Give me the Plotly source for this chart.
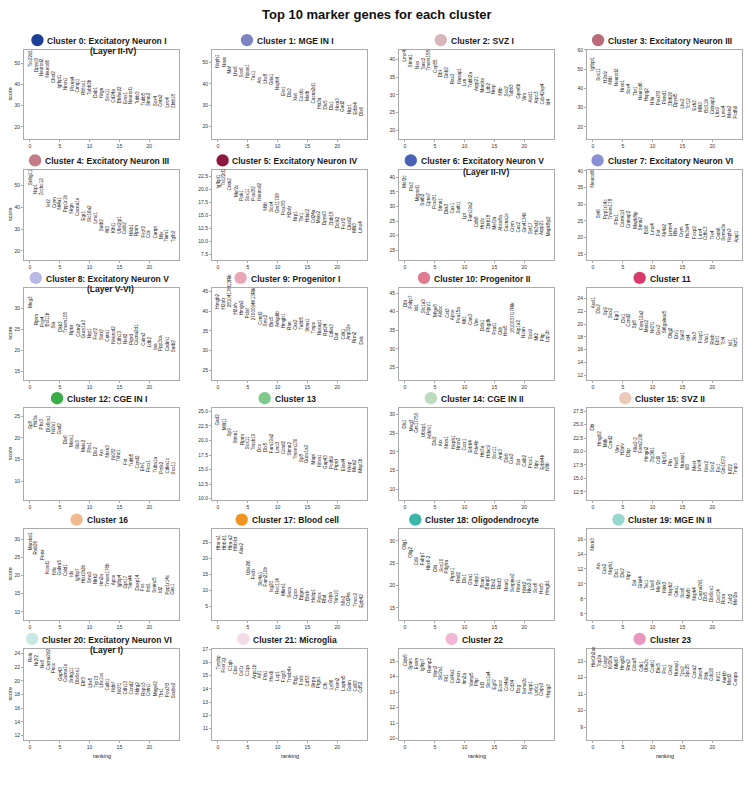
import plotly.graph_objects as go

# ---- data: top marker genes per cluster (ranking 0..24) and their scores ----
cluster_titles = [
    "Cluster 0: Excitatory Neuron I", "Cluster 1: MGE IN I", "Cluster 2: SVZ I",
    "Cluster 3: Excitatory Neuron III", "Cluster 4: Excitatory Neuron III",
    "Cluster 5: Excitatory Neuron IV", "Cluster 6: Excitatory Neuron V",
    "Cluster 7: Excitatory Neuron VI", "Cluster 8: Excitatory Neuron V",
    "Cluster 9: Progenitor I", "Cluster 10: Progenitor II", "Cluster 11",
    "Cluster 12: CGE IN I", "Cluster 13", "Cluster 14: CGE IN II", "Cluster 15: SVZ II",
    "Cluster 16", "Cluster 17: Blood cell", "Cluster 18: Oligodendrocyte",
    "Cluster 19: MGE IN II", "Cluster 20: Excitatory Neuron VI", "Cluster 21: Microglia",
    "Cluster 22", "Cluster 23",
]
cluster_subtitles = {0: "(Layer II-IV)", 6: "(Layer II-IV)", 8: "(Layer V-VI)", 20: "(Layer I)"}
cluster_colors = [
    "#1c409a", "#7d84c2", "#d9b6bb", "#b96a78", "#c47b86", "#8c1940",
    "#4b63b6", "#8b90d4", "#b8bae6", "#e9a6b4", "#e07b90", "#d83b69",
    "#3aad46", "#80c98b", "#bbdcbe", "#edcab8", "#f0b98e", "#ef9520",
    "#3cb5aa", "#96d8cf", "#cae8e3", "#f4dae5", "#f2b8d3", "#e997be",
]

genes_c0 = ["Tsc22d1", "Dpysl3", "Neurod2", "Neurod6", "Chst2", "Igfbpl1", "Nrxn1", "Plxna4", "Crmp1", "Rbfox1",
            "Tubb2b", "Dab1", "Nrgn", "Sox11", "Cd24a", "Bhlhe22", "Emx1", "Neurod1", "Tubb3", "Tubb5",
            "Stmn2", "Sox4", "Cntn2", "Lrrc4", "Zbtb18"]
scores_c0 = [47.7, 45.3, 43.3, 42.7, 40.0, 37.5, 37.0, 36.4, 35.5, 34.7, 34.3, 33.2, 33.0, 31.6, 31.1,
             30.6, 30.6, 30.3, 30.0, 29.5, 29.4, 29.0, 28.8, 28.4, 28.1]

genes_c1 = ["Nxph1", "Nnat", "Maf", "Lhx6", "Sox6", "Npas1", "Tac1", "Arx", "Lhx8", "Gria1",
            "Nxph4", "Etv1", "Dlx2", "Xist", "Cox6c", "Mafb", "Cacna2d1", "Htr3a", "Dlx5", "Dlx1",
            "Nrxn3", "Gad2", "Nrp1", "Erbb4", "Dlx6"]
scores_c1 = [47.0, 47.4, 44.3, 43.0, 42.6, 42.3, 41.0, 39.5, 39.5, 38.8, 36.4, 33.8, 33.0, 31.8, 31.5,
             31.5, 30.3, 28.0, 27.7, 27.3, 27.0, 26.5, 25.4, 25.0, 24.5]

genes_c2 = ["Lmo4", "Stmn1", "Nes", "Tanc2", "Tmem158", "Cep55", "Dbi", "Gnb2", "Rac2", "Nusap1",
            "Lxn", "Tubb2a", "Arpp21", "Marcks", "Ldb2", "Nrep", "Nfib", "Sox2", "Tubb3", "Gpm6b",
            "Vim", "Ascl1", "Arpc3", "Cdc42ep4", "Id4"]
scores_c2 = [39.2, 37.5, 37.2, 36.9, 36.7, 35.9, 34.8, 34.3, 32.8, 32.8, 32.1, 31.7, 30.8, 30.5, 30.2,
             30.0, 29.5, 29.2, 29.0, 28.7, 28.1, 27.6, 27.3, 26.9, 26.6]

genes_c3 = ["Igfbpl1", "Sox11", "H2afz", "Nfib", "Neurod2", "Nrxn1", "Sox4", "Tbr1", "Neurod6", "Hspg2",
            "Nfia", "Pou3f3", "Plxnd1", "Zbtb20", "Dpysl5", "Lhx2", "Tcf12", "Ezh2", "Mllt3", "Bcl11b",
            "Cntnap2", "Lhx9", "Lmo4", "Meis2", "Pcdh9"]
scores_c3 = [48.6, 43.6, 42.5, 41.7, 40.5, 37.6, 36.6, 35.4, 33.2, 32.5, 30.9, 30.7, 30.9, 30.3, 29.8,
             29.2, 28.6, 27.8, 27.4, 26.9, 26.1, 24.7, 24.7, 24.0, 23.5]

genes_c4 = ["Snhg11", "Nrp1", "Zcchc12", "Ier2", "Crym", "Nr4a1", "Ppp1r1b", "Nrgn", "Cacna1e", "Egr1",
            "Slc16a2", "Lmo1", "Satb2", "Ifit3", "Klhl1", "Ube2ql1", "Calb2", "Nfkb1", "Rprm", "Fezf2",
            "Cck", "Cartpt", "Nfix", "Tiam1", "Tgfb2"]
scores_c4 = [49.5, 45.5, 44.7, 39.5, 39.2, 38.5, 37.0, 36.5, 35.5, 33.2, 32.8, 31.8, 28.3, 27.7, 27.7,
             27.7, 27.3, 26.5, 26.2, 25.8, 25.3, 25.0, 24.7, 23.5, 23.5]

genes_c5 = ["Igfbpl1", "Tsc22d1", "Cntn2", "Mef2c", "Pak1", "Sox11", "Pou3f2", "Neurod2", "Nfib", "Sox4",
            "Gm11798", "Pou3f3", "H2afz", "Nrp1", "Tbr1", "Hdac2", "Cd24a", "Meis2", "Dpysl3", "Zbtb18",
            "Dclk2", "Fezf2", "Cited2", "Mllt3", "Lmo4"]
scores_c5 = [20.0, 20.5, 19.7, 18.4, 17.7, 17.6, 17.7, 17.6, 15.8, 15.5, 15.2, 14.9, 14.4, 13.8, 13.6,
             13.6, 13.4, 13.3, 13.0, 12.8, 12.4, 12.2, 12.0, 11.5, 11.5]

genes_c6 = ["Mef2c", "Pls3", "Mpped1", "Satb2", "Cpne7", "Pou3f1", "Stmn1", "Dkk3", "Cux1", "Satb1",
            "Lpl", "Fam19a2", "Cdh8", "Htr2c", "Zbtb18", "Mef2a", "Abca8a", "Cacna1e", "Crym", "Cux2",
            "Gm41349", "Syt17", "Hs3st2", "Arpp21", "Mapk8ip2"]
scores_c6 = [36.2, 35.1, 31.6, 29.9, 29.7, 29.0, 27.9, 27.1, 27.3, 27.1, 25.1, 24.4, 22.5, 22.1, 21.9,
             21.7, 21.4, 21.0, 20.8, 20.6, 20.6, 20.2, 19.9, 19.7, 19.4]

genes_c7 = ["Neurod6", "Syt6", "Ppp1r14c", "Tmem178", "Pbx1", "Camk1d", "Cntnap2", "Mapk8ip", "Stmn2", "Bcl6",
            "Lmo4", "Fst", "Nr4a2", "Lrrtm4", "Nfia", "Crym", "Hs3st4", "Foxp2", "Lrrc4", "Cdh13",
            "Tle4", "Cntn6", "Sema3e", "Nxph3", "Ajap1"]
scores_c7 = [34.7, 25.4, 25.2, 25.2, 23.7, 22.7, 22.4, 22.2, 21.7, 20.7, 20.4, 20.2, 20.0, 20.2, 20.0,
             19.7, 19.4, 19.2, 19.2, 19.0, 19.0, 18.9, 18.7, 18.4, 18.2]

genes_c8 = ["Meg3", "Rprm", "Pcp4", "Bcl11b", "Sla", "Dkk3", "Tmem105", "Nptxr", "Clstn2", "Gucy1a3",
            "Nrp1", "Fezf2", "Sstr2", "Cntn1", "Neurod2", "Cdh13", "Nell2", "Ptprd", "Cacna2d1", "Calm2",
            "Ldb2", "Ina", "Ppp3ca", "Cadm1", "Satb2"]
scores_c8 = [29.8, 25.8, 25.4, 25.4, 25.0, 24.2, 24.0, 23.4, 23.0, 22.6, 22.5, 22.2, 22.2, 21.8, 21.4,
             21.2, 21.2, 21.0, 20.9, 20.9, 20.4, 19.8, 19.6, 19.4, 19.3]

genes_c9 = ["Hmgb2", "H2afz", "2810417H13Rik", "H2afv", "Hmgn2", "Pclaf", "2700094K13Rik", "Ccnd2", "Smc2", "Birc5",
            "Arhgdib", "Hmgb1", "Ran", "Cks2", "Tubb5", "Stmn1", "Tmpo", "Nusap1", "Rpl24", "Cdkn3",
            "Dut", "Cdk1", "Anp32e", "Rrm2", "Dek"]
scores_c9 = [40.5, 40.3, 40.7, 39.0, 38.8, 38.0, 37.5, 36.2, 35.8, 35.8, 35.6, 35.4, 35.0, 35.0, 35.0,
             34.6, 34.2, 33.7, 33.6, 33.1, 32.5, 32.5, 32.5, 31.7, 31.2]

genes_c10 = ["Dbi", "Fabp7", "Idi1", "Slc1a3", "Ptprz1", "Mfge8", "Aldoc", "Cst3", "Apoe", "Pea15a",
             "Mt1", "Cnn3", "Vim", "Dclk1", "Phgdh", "Psat1", "Ckb", "Hes5", "1810037I17Rik", "Atp1a2",
             "Ncan", "Sox9", "Mt2", "Pltp", "Lrp1b"]
scores_c10 = [41.1, 40.7, 39.8, 39.3, 38.9, 38.4, 38.2, 38.0, 37.5, 36.6, 36.4, 36.2, 35.7, 34.6, 34.4,
              33.7, 33.4, 33.1, 34.0, 33.5, 32.6, 32.2, 32.0, 31.8, 31.6]

genes_c11 = ["Ascl1", "Dlx2", "Sp9", "Sox2", "Egr1", "Dlx1", "Ccnd2", "Sp8", "Fam19a2", "Meis2",
             "Nr2f1", "Gsx2", "St6galnac5", "Olig2", "Etv1", "Sall3", "Id4", "Six3", "Foxp1", "Vax1",
             "Rarb", "Ebf1", "Tcf4", "Isl1", "Ikzf1"]
scores_c11 = [22.3, 21.5, 21.3, 20.8, 20.4, 20.0, 19.4, 19.2, 18.9, 18.6, 18.4, 18.1, 18.4, 17.6, 17.6,
              17.3, 17.2, 17.2, 16.8, 16.8, 16.7, 16.6, 16.5, 16.4, 16.3]

genes_c12 = ["Sp8", "Htr3a", "Pbx3", "Dlx6os1", "Nr2e1", "Gad2", "Dlx6", "Meis1", "Six3", "Meis2",
             "Pbx1", "Dlx2", "Arx", "Nrxn3", "Nr2f2", "Tshz1", "Fst", "Tubb5", "Ccnd2", "Etv1",
             "Prox1", "Tuba1a", "Prdx2", "Cdkn1c", "Sox11"]
scores_c12 = [21.9, 22.3, 21.8, 21.2, 20.8, 20.5, 18.2, 17.7, 17.2, 16.5, 16.4, 15.4, 15.4, 15.2, 14.8,
              14.4, 13.5, 13.1, 12.7, 12.1, 11.9, 11.8, 11.5, 11.5, 11.2]

genes_c13 = ["Gad2", "Mllt11", "Sp9", "Stmn1", "Rprm", "Sox11", "Tmsb10", "Dcx", "Dlx5", "Fam19a2",
             "Lmo3", "Ccnd2", "Stmn2", "Tmem130", "Sp8", "Gucy1a3", "Mapt", "Nrxn1", "Gap43", "Pcdh9",
             "Ptprd", "Elavl4", "Nrep", "Meis2", "Map1b"]
scores_c13 = [22.4, 21.6, 20.6, 19.3, 19.1, 18.4, 18.2, 17.9, 17.8, 17.6, 17.6, 17.4, 17.2, 16.6, 16.1,
              15.9, 15.7, 15.3, 15.0, 14.9, 14.7, 14.5, 14.5, 14.4, 14.3]

genes_c14 = ["Dlx1", "Meg3", "Gm17750", "Ublcp1", "Adhfe1", "Dlx2", "Arx", "Nrxn1", "Nxph1", "Nrxn3",
             "Cxcr1", "Erbb4", "Pde4b", "Htr3a", "Hdac9", "Sox11", "Ank3", "Dlx6", "Cux2", "Sst",
             "Calb2", "Prox1", "Npy", "Erbb4b", "Nfib"]
scores_c14 = [26.0, 25.3, 25.0, 23.8, 23.3, 21.4, 21.2, 20.7, 20.5, 20.3, 20.0, 19.6, 19.1, 18.5, 18.2,
              17.8, 17.6, 17.0, 16.4, 16.1, 15.8, 15.4, 15.2, 14.9, 14.6]

genes_c15 = ["Dbi", "Hmgb2", "Mdk", "Ccnd2", "Vim", "H2afv", "Dbp", "Nkx2-2", "Fam210b", "Hmgn2",
             "Zfp36l1", "Cd9", "Rpl18", "Ptn", "Hes5", "Nusap1", "Id3", "Mest", "Lmo4", "Nes2",
             "Sox2", "Fjx1", "Gm1673", "Kif22", "Tmpo"]
scores_c15 = [23.8, 20.9, 20.7, 20.3, 19.5, 19.2, 18.9, 19.8, 19.5, 18.0, 17.7, 17.5, 17.4, 17.1, 16.8,
              16.8, 16.3, 16.2, 16.2, 16.0, 15.9, 15.9, 15.7, 15.5, 15.5]

genes_c16 = ["Marcksl1", "Rab26", "Pnisr", "Kcnd1", "Nfix", "Gabra5", "Cald1", "Ids", "Igfbp7", "Hist1h2b",
             "Smc2", "Ntrk2", "Itm2a", "Tmem176b", "Apoe", "Igfbp4", "Gpr17", "Trim44", "Dusp14", "Fos",
             "Ifrd1", "Serinc5", "Id2", "Ppp1r14c", "Gas1"]
scores_c16 = [26.8, 25.5, 24.1, 20.3, 20.0, 19.7, 19.5, 19.4, 18.2, 17.7, 17.5, 17.3, 16.8, 16.8, 17.0,
              16.4, 16.1, 15.9, 15.7, 15.5, 15.2, 15.0, 14.8, 14.5, 14.3]

genes_c17 = ["Hba-a1", "Hbb-b1", "Hba-a2", "Hbb-bt", "Alas2", "Ube2l6", "Fech", "Slc4a1", "Fam210b", "Isg20",
             "Rec114", "Mkrn1", "Snca", "Cpox", "Bpgm", "Blvrb", "Hebp1", "Ppox", "Rhd", "Gypa",
             "Trim10", "Nfe2", "Cd24a", "Tmcc2", "Epb42"]
scores_c17 = [22.3, 22.3, 22.2, 22.2, 20.9, 14.6, 13.2, 11.0, 10.8, 9.0, 8.5, 8.0, 7.4, 6.9, 6.7,
              6.3, 6.0, 5.8, 5.6, 5.6, 5.3, 5.0, 4.8, 4.6, 4.3]

genes_c18 = ["Olig1", "Olig2", "Cd9", "Fabp7", "Nkx6-2", "Dbi", "Sox10", "Pdgfra", "Ptprz1", "Rnd2",
             "Dlx1", "Gfra1", "Fnbp1", "Bcan", "Brinp2", "Dbx2", "Rnd3", "Neat1", "Serpine2", "Nrxn1",
             "Ntrk2", "Nkx2-2", "Sox6", "Hes5", "Hmgb1"]
scores_c18 = [27.9, 26.1, 24.4, 24.4, 23.3, 22.9, 22.9, 22.4, 20.7, 20.4, 20.2, 19.8, 19.6, 19.3, 19.0,
              18.9, 18.9, 18.5, 18.3, 18.3, 18.1, 18.0, 18.0, 17.8, 17.6]

genes_c19 = ["Nrxn3", "Arx", "Cux2", "Nxph1", "Dlx1", "Dlx2", "Npy", "Sst", "Grial4", "Tac1",
             "Lhx6", "Mef2c", "Ntrk3", "Nxph2", "Gria1", "Sox6", "Mafb", "Nxph4", "Cacna2d1", "Dlx5",
             "Dlx6os1", "Cxcl14", "Rora", "Zeb2", "Mef2a"]
scores_c19 = [14.4, 11.8, 11.2, 11.1, 10.7, 10.7, 10.5, 9.6, 9.3, 9.1, 9.0, 8.8, 8.7, 8.4, 8.2,
              8.0, 7.9, 7.7, 7.7, 7.6, 7.4, 7.3, 7.2, 7.1, 7.0]

genes_c20 = ["Reln", "Nr2f2", "Nefl", "Cacna2d2", "Pnoc", "Gap43", "Cacna1e", "Snhg11", "Dlx6os1", "Ebf3",
             "Lhx5", "Trp73", "Lhx1os", "Calb1", "Ndnf", "Nr2f1", "Cdh13", "Ccnd2", "Ndrg2", "Rspo3",
             "Cntn1", "Magel2", "Tbr1", "Pou3f3", "Scube2"]
scores_c20 = [22.6, 22.0, 21.7, 21.5, 21.0, 19.8, 19.7, 19.5, 19.4, 19.0, 18.8, 18.8, 18.8, 18.5, 18.3,
              18.0, 17.9, 17.9, 17.8, 17.7, 17.6, 17.6, 17.4, 17.4, 17.3]

genes_c21 = ["Tyrobp", "Fcer1g", "C1qb", "Ctss", "Csf1r", "C1qa", "Arpc1b", "Aif1", "Fth1", "Hexb",
             "Lcp1", "Fcgr3", "Tmsb4x", "Btg1", "Fcrls", "Cd53", "Sirpa", "Ptgs1", "Cfh", "Ly86",
             "Trem2", "Laptm5", "Gatm", "Cd63", "Cd52"]
scores_c21 = [15.4, 15.2, 15.3, 15.0, 14.9, 14.9, 14.7, 14.7, 14.6, 14.5, 14.5, 14.4, 14.4, 14.3, 14.2,
              14.1, 14.0, 14.0, 13.9, 13.9, 13.8, 13.8, 13.7, 13.7, 13.6]

genes_c22 = ["Cldn5", "Sparc", "Esam", "Igfbp7", "Ramp2", "Ifitm3", "Slc2a1", "Flt1", "Col4a1", "Emcn",
             "Itm2a", "Vamp5", "Pltp", "Id3", "Slco1a4", "Egfl7", "Ecscr", "Col4a2", "Cd34", "Bsg",
             "Sema3c", "Sepp1", "Ly6c1", "Cnpy3", "Hspg2"]
scores_c22 = [14.6, 14.4, 14.4, 14.3, 14.2, 13.9, 13.7, 13.6, 13.5, 13.5, 13.4, 13.3, 13.3, 13.2, 13.2,
              13.1, 13.0, 13.0, 13.0, 12.9, 12.8, 12.8, 12.7, 12.7, 12.6]

genes_c23 = ["Hist1h2ae", "Top2a", "Cenpf", "Kif20a", "Mki67", "Hmgb2", "Rrm2", "Cdca8", "Cdk1", "Ube2c",
             "Ccnb1", "Birc5", "Prc1", "Cks2", "Nusap1", "Tpx2", "Spc25", "Ccna2", "Smc4", "Pbk",
             "Cdc20", "Kif11", "Aurkb", "Mxd3", "Cenpa"]
scores_c23 = [12.6, 12.6, 12.55, 12.5, 12.5, 12.4, 12.35, 12.3, 12.3, 12.25, 12.2, 12.2, 12.15, 12.1, 12.05,
              12.0, 11.95, 11.9, 11.85, 11.8, 11.75, 11.7, 11.6, 11.5, 11.45]

all_genes = [genes_c0, genes_c1, genes_c2, genes_c3, genes_c4, genes_c5, genes_c6, genes_c7,
             genes_c8, genes_c9, genes_c10, genes_c11, genes_c12, genes_c13, genes_c14, genes_c15,
             genes_c16, genes_c17, genes_c18, genes_c19, genes_c20, genes_c21, genes_c22, genes_c23]
all_scores = [scores_c0, scores_c1, scores_c2, scores_c3, scores_c4, scores_c5, scores_c6, scores_c7,
              scores_c8, scores_c9, scores_c10, scores_c11, scores_c12, scores_c13, scores_c14, scores_c15,
              scores_c16, scores_c17, scores_c18, scores_c19, scores_c20, scores_c21, scores_c22, scores_c23]

# ---- layout settings (pixel positions in the 754x790 window) ----
PAGE_OFF = 8           # browser body margin around the plot div
W, H = 754 - PAGE_OFF, 790 - PAGE_OFF
col_px = [(24, 179), (212, 367), (399, 554), (587, 742)]
row_px = [(47, 137), (168, 258), (286, 379), (407, 500), (529, 620), (649, 741)]
y_ranges = [(14.1, 56.3), (14.1, 55.9), (17.4, 42.8), (13.5, 60.0),
            (16.0, 56.8), (6.5, 23.7), (11.7, 42.5), (13.3, 40.2),
            (12.9, 34.9), (22.5, 46.0), (21.6, 46.5), (11.25, 25.7),
            (5.5, 26.9), (9.7, 25.6), (7.0, 31.8), (10.9, 28.1),
            (7.8, 32.7), (0.75, 29.1), (12.3, 32.6), (5.2, 17.3),
            (11.3, 24.7), (10.1, 17.05), (9.9, 15.8), (8.2, 13.75)]
y_dticks = [10, 10, 5, 10, 10, 2.5, 5, 5, 5, 5, 5, 2, 5, 2.5, 5, 2.5, 5, 5, 5, 2, 2, 1, 1, 1]
sub_offsets = {0: 11, 6: 9.5, 8: 8.5, 20: 5}

FONT = "Liberation Sans, Arial, sans-serif"
AX_COLOR = "#ababab"
TITLE_SIZE = 8.5

# Arial/Helvetica bold advance widths (per 1000 em), used to place the dots
BOLD_W = {" ": 278, "(": 333, ")": 333, "-": 333, ":": 333, "I": 278, "V": 667, "M": 833,
          "G": 778, "E": 667, "N": 722, "C": 722, "S": 667, "Z": 611, "L": 611, "B": 722,
          "P": 667, "O": 778, "a": 556, "b": 611, "c": 556, "d": 611, "e": 556, "f": 333,
          "g": 611, "h": 611, "i": 278, "l": 278, "m": 889, "n": 611, "o": 611, "p": 611,
          "r": 389, "s": 556, "t": 333, "u": 611, "v": 556, "x": 556, "y": 556, "y": 556,
          "z": 500, "k": 556}


def text_width(s, size):
    return sum(BOLD_W.get(ch, 556) for ch in s) * size / 1000.0


def px(x):
    return (x - PAGE_OFF) / W


def py(y):
    return 1 - (y - PAGE_OFF) / H


fig = go.Figure()
annotations = []
shapes = []
layout_axes = {}

for i in range(24):
    r, c = divmod(i, 4)
    x0, x1 = col_px[c]
    y0, y1 = row_px[r]
    sfx = "" if i == 0 else str(i + 1)
    xname, yname = "x" + sfx, "y" + sfx
    genes = all_genes[i]
    scores = all_scores[i]
    ranks = list(range(len(genes)))

    fig.add_trace(go.Scatter(
        x=ranks, y=scores, mode="markers", xaxis=xname, yaxis=yname,
        marker=dict(size=2, opacity=0), text=genes,
        hovertemplate="%{text}: %{y:.2f}<extra></extra>", showlegend=False))

    for g, rk, s in zip(genes, ranks, scores):
        annotations.append(dict(
            x=rk, y=s, xref=xname, yref=yname, text=g, showarrow=False,
            textangle=-90, xanchor="center", yanchor="bottom", borderpad=0,
            font=dict(family=FONT, size=4.6, color="#222222")))

    tfmt = ".1f" if y_dticks[i] == 2.5 else None
    layout_axes["xaxis" + sfx] = dict(
        domain=[px(x0), px(x1)], anchor=yname, range=[-1, 25],
        tickvals=[0, 5, 10, 15, 20],
        showline=True, mirror=True, linecolor=AX_COLOR, linewidth=1,
        ticks="outside", ticklen=2, tickcolor=AX_COLOR, tickwidth=0.8,
        tickfont=dict(family=FONT, size=5, color="#333333"),
        showgrid=False, zeroline=False, fixedrange=True)
    layout_axes["yaxis" + sfx] = dict(
        domain=[py(y1), py(y0)], anchor=xname, range=list(y_ranges[i]),
        dtick=y_dticks[i], tick0=0, tickformat=tfmt,
        showline=True, mirror=True, linecolor=AX_COLOR, linewidth=1,
        ticks="outside", ticklen=2, tickcolor=AX_COLOR, tickwidth=0.8,
        tickfont=dict(family=FONT, size=5, color="#333333"),
        showgrid=False, zeroline=False, fixedrange=True)

    # panel title with coloured dot on its left
    xc = (x0 + x1) / 2
    tw = text_width(cluster_titles[i], TITLE_SIZE)
    gap = 16  # dot left edge to text start
    total = tw + gap
    left = xc - 2.5 - total / 2
    text_center = left + gap + tw / 2
    ty = y0 - 9
    annotations.append(dict(
        x=px(text_center), y=py(ty), xref="paper", yref="paper",
        text=f"<b>{cluster_titles[i]}</b>", showarrow=False,
        xanchor="center", yanchor="middle",
        font=dict(family=FONT, size=TITLE_SIZE, color="#1a1a1a")))
    rad = 6.2
    cx, cy = left + rad, ty - 0.8
    shapes.append(dict(
        type="circle", xref="paper", yref="paper",
        x0=px(cx - rad), x1=px(cx + rad), y0=py(cy + rad), y1=py(cy - rad),
        fillcolor=cluster_colors[i], line=dict(width=0)))
    if i in cluster_subtitles:
        annotations.append(dict(
            x=px(xc + sub_offsets[i]), y=py(y0 + 1.5), xref="paper", yref="paper",
            text=f"<b>{cluster_subtitles[i]}</b>", showarrow=False,
            xanchor="center", yanchor="middle",
            font=dict(family=FONT, size=TITLE_SIZE, color="#1a1a1a")))

    if c == 0:
        annotations.append(dict(
            x=px(10), y=py((y0 + y1) / 2), xref="paper", yref="paper",
            text="score", textangle=-90, showarrow=False,
            xanchor="center", yanchor="middle",
            font=dict(family=FONT, size=5.5, color="#222222")))
    if r == 5:
        annotations.append(dict(
            x=px(xc), y=py(y1 + 16), xref="paper", yref="paper",
            text="ranking", showarrow=False, xanchor="center", yanchor="middle",
            font=dict(family=FONT, size=5.5, color="#222222")))

annotations.append(dict(
    x=px(377), y=py(12), xref="paper", yref="paper",
    text="<b>Top 10 marker genes for each cluster</b>", showarrow=False,
    xanchor="center", yanchor="middle",
    font=dict(family=FONT, size=13, color="#111111")))

fig.update_layout(
    width=W, height=H,
    margin=dict(l=0, r=0, t=0, b=0),
    paper_bgcolor="white", plot_bgcolor="white",
    annotations=annotations, shapes=shapes,
    showlegend=False,
    **layout_axes)

fig.write_html("out.html")
